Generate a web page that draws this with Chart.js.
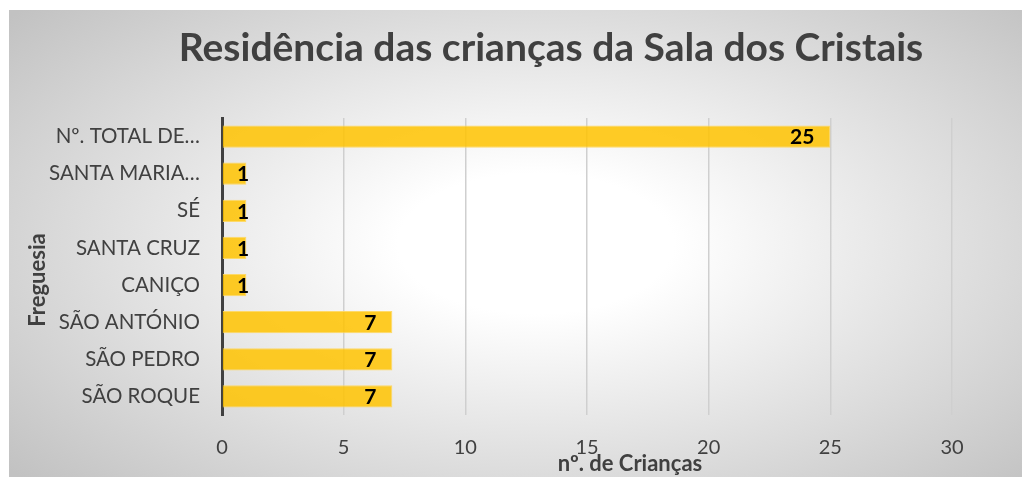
<!DOCTYPE html>
<html lang="pt">
<head>
<meta charset="UTF-8">
<title>Residência das crianças da Sala dos Cristais</title>
<script src="https://cdn.jsdelivr.net/npm/chart.js"></script>
<style>
    html, body { margin: 0; padding: 0; background: #fff; }
    #caixa {
        position: absolute; left: 9px; top: 10px; width: 1013px; height: 467px;
        background: radial-gradient(ellipse 68% 75% at 52% 50%, #ffffff 0%, #ffffff 20%, #c2c2c2 100%);
    }
</style>
</head>
<body>
<div id="caixa"><canvas id="grafico" width="1013" height="467"></canvas></div>
<script>
    // dados
    const titulo = 'Residência das crianças da Sala dos Cristais';
    const freguesias = ['Nº. TOTAL DE…', 'SANTA MARIA…', 'SÉ', 'SANTA CRUZ', 'CANIÇO', 'SÃO ANTÓNIO', 'SÃO PEDRO', 'SÃO ROQUE'];
    const criancas = [25, 1, 1, 1, 1, 7, 7, 7];
    const ticksX = [0, 5, 10, 15, 20, 25, 30];
    const tituloX = 'nº. de Crianças';
    const tituloY = 'Freguesia';

    const fonte = 'Lato, "Open Sans", sans-serif';

    // títulos e rótulos desenhados à mão (posições iguais ao Excel)
    const textos = {
        id: 'textos',
        afterDatasetsDraw(chart) {
            const ctx = chart.ctx;
            const meta = chart.getDatasetMeta(0);
            const zero = chart.scales.x.getPixelForValue(0);
            ctx.save();
            ctx.fillStyle = '#000';
            ctx.font = 'bold 21px ' + fonte;
            ctx.textAlign = 'left';
            ctx.textBaseline = 'middle';
            meta.data.forEach((barra, i) => {
                const txt = String(criancas[i]);
                const w = ctx.measureText(txt).width;
                let x = barra.x - 16 - w;
                if (x < zero + 15) x = zero + 15;
                ctx.fillText(txt, x, barra.y + 1);
            });
            ctx.restore();
        },
        afterDraw(chart) {
            const ctx = chart.ctx;
            ctx.save();
            ctx.fillStyle = '#404040';
            ctx.textAlign = 'center';
            ctx.textBaseline = 'middle';
            ctx.font = 'bold 39px ' + fonte;
            ctx.fillText(titulo, 542, 38);
            ctx.font = 'bold 22px ' + fonte;
            ctx.fillText(tituloX, 621, 454);
            ctx.translate(29, 270);
            ctx.rotate(-Math.PI / 2);
            ctx.fillText(tituloY, 0, 0);
            ctx.restore();
        }
    };

    new Chart(document.getElementById('grafico'), {
        type: 'bar',
        data: {
            labels: freguesias,
            datasets: [{
                data: criancas,
                backgroundColor: 'rgba(255, 195, 0, 0.85)',
                borderColor: 'rgba(255, 215, 90, 0.9)',
                borderWidth: 1,
                categoryPercentage: 1,
                barPercentage: 0.6
            }]
        },
        options: {
            indexAxis: 'y',
            responsive: false,
            animation: false,
            layout: { padding: { left: 0, right: 70, top: 108, bottom: 0 } },
            plugins: {
                legend: { display: false },
                title: { display: false },
                tooltip: { enabled: false }
            },
            scales: {
                x: {
                    min: 0,
                    max: 30,
                    afterBuildTicks(scale) { scale.ticks = ticksX.map(v => ({ value: v })); },
                    afterFit(scale) { scale.height = 62; },
                    grid: { color: '#cfcfcf', lineWidth: 1.5, drawTicks: false },
                    border: { display: false },
                    ticks: { color: '#404040', font: { family: fonte, size: 20 }, padding: 21 }
                },
                y: {
                    afterFit(scale) { scale.width = 213; },
                    grid: { display: false, drawTicks: false },
                    border: { display: true, color: '#404040', width: 3 },
                    ticks: { color: '#404040', font: { family: fonte, size: 20.5 }, padding: 22 }
                }
            }
        },
        plugins: [textos]
    });
</script>
</body>
</html>
